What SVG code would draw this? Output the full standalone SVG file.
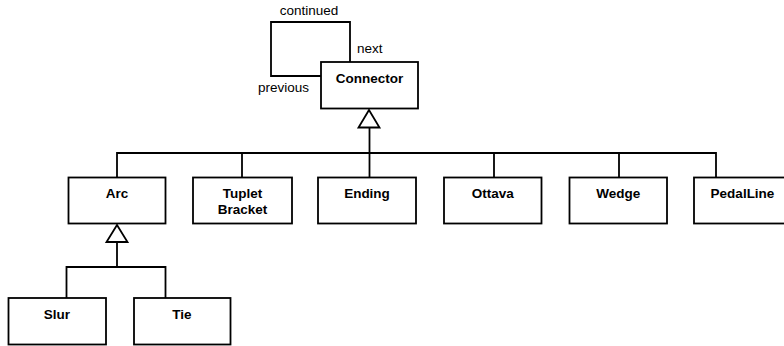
<svg xmlns="http://www.w3.org/2000/svg" width="784" height="346" viewBox="0 0 784 346">
  <style>
    .box { fill: #ffffff; stroke: #000000; stroke-width: 1.8; }
    .line { fill: none; stroke: #000000; stroke-width: 1.8; }
    .tri { fill: #ffffff; stroke: #000000; stroke-width: 1.8; stroke-linejoin: miter; }
    .name { font-family: "Liberation Sans", Arial, sans-serif; font-size: 13.5px; font-weight: bold; text-anchor: middle; fill: #000000; }
    .role { font-family: "Liberation Sans", Arial, sans-serif; font-size: 13.5px; fill: #000000; }
  </style>
  <rect width="784" height="346" fill="#ffffff"/>

  <!-- connectors: self-association and generalisation trees -->
  <g id="connectors">
    <polyline class="line" points="350,62 350,22 271,22 271,76 321,76"/>
    <text class="role" x="309" y="15" text-anchor="middle">continued</text>
    <text class="role" x="357" y="53">next</text>
    <text class="role" x="258" y="92">previous</text>

    <!-- Connector generalisation -->
    <line class="line" x1="369.5" y1="127.5" x2="369.5" y2="153"/>
    <polyline class="line" points="117,177 117,153 716,153 716,177"/>
    <line class="line" x1="242" y1="153" x2="242" y2="177"/>
    <line class="line" x1="369.5" y1="153" x2="369.5" y2="177"/>
    <line class="line" x1="494" y1="153" x2="494" y2="177"/>
    <line class="line" x1="619" y1="153" x2="619" y2="177"/>
    <polygon class="tri" points="369,110 358.5,127.5 379.5,127.5"/>

    <!-- Arc generalisation -->
    <line class="line" x1="117" y1="242" x2="117" y2="267"/>
    <polyline class="line" points="66.5,298 66.5,267 165.5,267 165.5,298"/>
    <polygon class="tri" points="117,225 106.5,242 127.5,242"/>
  </g>

  <g id="Connector">
    <rect class="box" x="321" y="62" width="97" height="46.5"/>
    <text class="name" x="369.5" y="83">Connector</text>
  </g>

  <g id="Arc">
    <rect class="box" x="68.5" y="177.5" width="97" height="46"/>
    <text class="name" x="117" y="197.5">Arc</text>
  </g>

  <g id="TupletBracket">
    <rect class="box" x="193" y="177.5" width="99" height="46"/>
    <text class="name" x="242.5" y="197.5">Tuplet</text>
    <text class="name" x="242.5" y="213.5">Bracket</text>
  </g>

  <g id="Ending">
    <rect class="box" x="318" y="177.5" width="98" height="46"/>
    <text class="name" x="367" y="197.5">Ending</text>
  </g>

  <g id="Ottava">
    <rect class="box" x="444" y="177.5" width="97.5" height="46"/>
    <text class="name" x="492.8" y="197.5">Ottava</text>
  </g>

  <g id="Wedge">
    <rect class="box" x="569.5" y="177.5" width="97.5" height="46"/>
    <text class="name" x="618.3" y="197.5">Wedge</text>
  </g>

  <g id="PedalLine">
    <rect class="box" x="694" y="177.5" width="97" height="46"/>
    <text class="name" x="742.5" y="197.5">PedalLine</text>
  </g>

  <g id="Slur">
    <rect class="box" x="8.5" y="298" width="97.5" height="46.5"/>
    <text class="name" x="57" y="319">Slur</text>
  </g>

  <g id="Tie">
    <rect class="box" x="134" y="298" width="96.5" height="46.5"/>
    <text class="name" x="182" y="319">Tie</text>
  </g>
</svg>
